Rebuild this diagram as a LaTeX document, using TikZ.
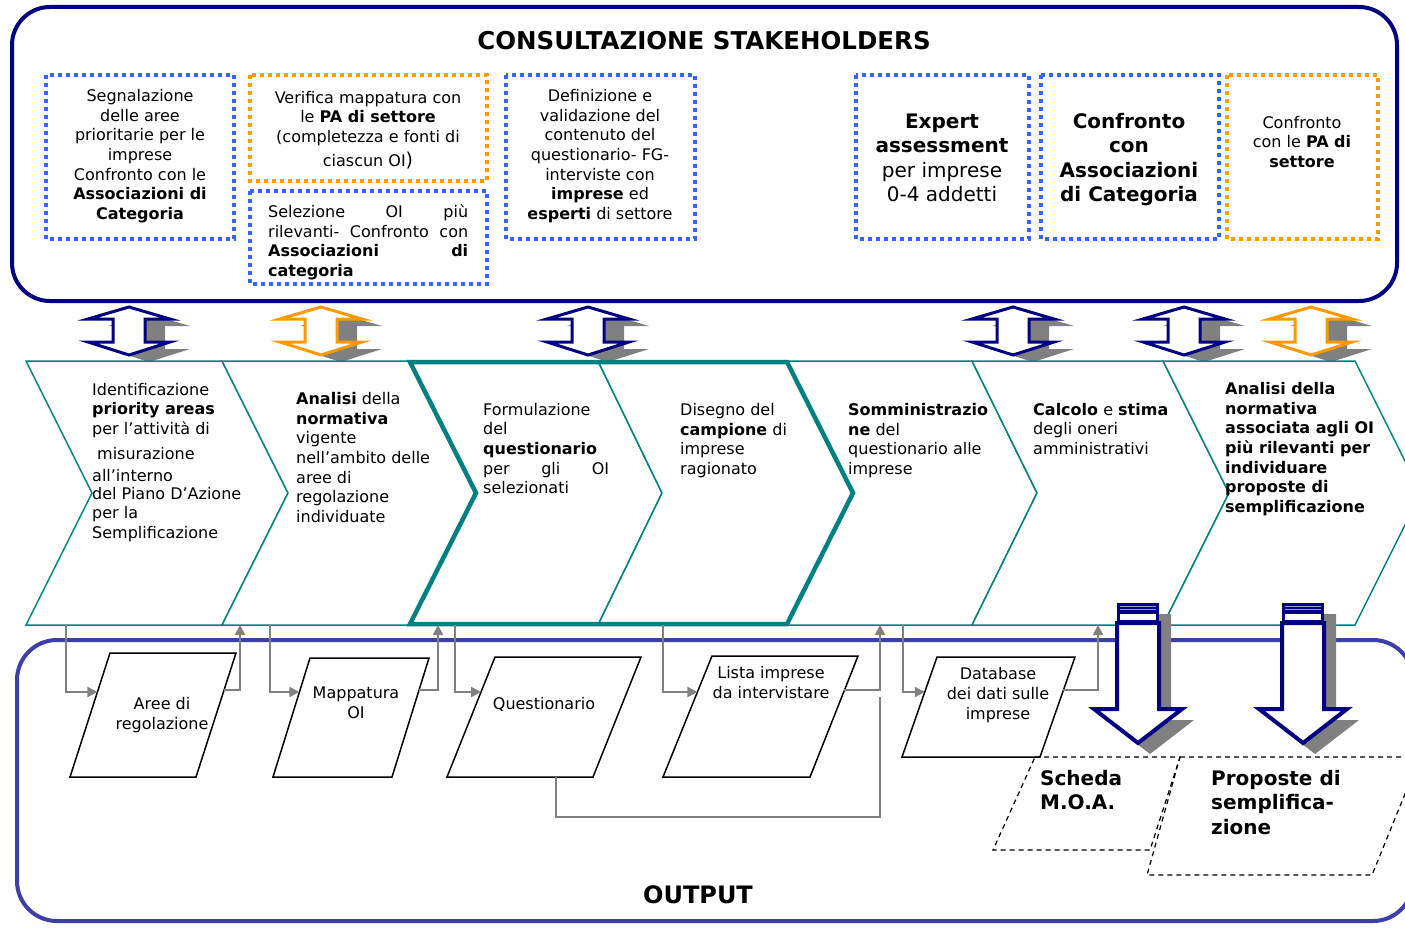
\documentclass[tikz,border=0pt]{standalone}
\usepackage{fontspec}
\setmainfont{DejaVu Sans}
\usetikzlibrary{arrows.meta}
\definecolor{navyc}{RGB}{0,0,128}
\definecolor{dotblue}{RGB}{51,102,255}
\definecolor{dotorange}{RGB}{255,153,0}
\definecolor{tealc}{RGB}{0,128,128}
\definecolor{shadowc}{RGB}{128,128,128}
\definecolor{outblue}{RGB}{62,62,168}
\tikzset{
 dotbox/.style={line width=4pt, dash pattern=on 4pt off 4pt},
 tx/.style={font=\fontsize{16}{19.6}\selectfont, inner sep=0pt},
 txbig/.style={font=\fontsize{20}{24.6}\selectfont, inner sep=0pt},
 txtitle/.style={font=\fontsize{24.5}{26}\selectfont\bfseries, inner sep=0pt},
 chev/.style={draw=tealc, line width=1.5pt, fill=white, line join=miter},
 chevthick/.style={draw=tealc, line width=4.5pt, line join=miter},
 conn/.style={draw=shadowc, line width=2pt},
 connarrow/.style={conn, -{Triangle[length=10pt,width=10pt]}},
 para/.style={draw=black, line width=1.5pt, fill=white, line join=miter},
 dpara/.style={draw=black, line width=1.2pt, dash pattern=on 5pt off 4pt},
}
\begin{document}
\begin{tikzpicture}[x=1pt,y=-1pt]
\useasboundingbox (0,0) rectangle (1405,928);
\clip (0,0) rectangle (1405,928);
\fill[white] (0,0) rectangle (1405,928);

% ---------- top box ----------
\draw[navyc, line width=4pt, rounded corners=38pt] (12,7) rectangle (1397,301);
\node[txtitle] (title) at (704,41) {CONSULTAZIONE STAKEHOLDERS};

\draw[dotbox, dotblue] (46,75) rectangle (234,239);
\node[tx, align=center] (b1) at (140,156.5) {\strut Segnalazione\\delle aree\\prioritarie per le\\imprese\\Confronto con le\\\textbf{Associazioni di}\\\textbf{Categoria}\strut};

\draw[dotbox, dotorange] (250,75) rectangle (487,181);
\node[tx, align=center] (b2) at (368,131) {\strut Verifica mappatura con\\le \textbf{PA di settore}\\(completezza e fonti di\\[5pt]ciascun OI{\fontsize{19}{19}\selectfont)}\strut};

\draw[dotbox, dotblue] (250,191) rectangle (487,284);
\node[tx, align=left, anchor=west] (b3) at (268,243) {\strut\makebox[200pt][s]{Selezione OI più}\\\makebox[200pt][s]{rilevanti- Confronto con}\\\makebox[200pt][s]{\textbf{Associazioni di}}\\\textbf{categoria}\strut};

\draw[dotbox, dotblue] (506,75) rectangle (695,239);
\node[tx, align=center] (b4) at (600,156.5) {\strut Definizione e\\validazione del\\contenuto del\\questionario- FG-\\interviste con\\\textbf{imprese} ed\\\textbf{esperti} di settore\strut};

\draw[dotbox, dotblue] (856,75) rectangle (1029,239);
\node[txbig, align=center] (b5) at (942,160) {\strut\textbf{Expert}\\\textbf{assessment}\\per imprese\\0-4 addetti\strut};

\draw[dotbox, dotblue] (1041,75) rectangle (1219,239);
\node[txbig, align=center] (b6) at (1129,160) {\strut\textbf{Confronto}\\\textbf{con}\\\textbf{Associazioni}\\\textbf{di Categoria}\strut};

\draw[dotbox, dotorange] (1227,75) rectangle (1378,239);
\node[tx, align=center] (b7) at (1302,144) {\strut Confronto\\con le \textbf{PA di}\\\textbf{settore}\strut};

% ---------- output box ----------
\draw[outblue, line width=4pt, rounded corners=40pt] (17,640) rectangle (1413,921);
\node[txtitle, font=\fontsize{24}{26}\selectfont\bfseries] (outlabel) at (698,895) {OUTPUT};

% ---------- up-down arrows: shadows ----------
\foreach \cx in {129,321,588,1013,1184,1311}{
  \fill[shadowc] ({\cx+20},314) -- ({\cx+61},326) -- ({\cx+36},326) -- ({\cx+36},349) -- ({\cx+61},349) -- ({\cx+20},362) -- ({\cx-21},349) -- ({\cx+4},349) -- ({\cx+4},326) -- ({\cx-21},326) -- cycle;
}

% ---------- chevrons ----------
\draw[chev] (26,361) -- (222,361) -- (288,493) -- (222,625) -- (26,625) -- (92,493) -- cycle;
\draw[chev] (222,361) -- (410,361) -- (476,493) -- (410,625) -- (222,625) -- (288,493) -- cycle;
\draw[chev] (410,361) -- (598,361) -- (662,493) -- (598,625) -- (410,625) -- (476,493) -- cycle;
\draw[chev] (598,361) -- (787,361) -- (853,493) -- (787,625) -- (598,625) -- (662,493) -- cycle;
\draw[chev] (787,361) -- (972,361) -- (1037,493) -- (972,625) -- (787,625) -- (853,493) -- cycle;
\draw[chev] (972,361) -- (1163,361) -- (1229,493) -- (1163,625) -- (972,625) -- (1037,493) -- cycle;
\draw[chev] (1163,361) -- (1355,361) -- (1421,493) -- (1355,625) -- (1163,625) -- (1229,493) -- cycle;
\draw[chevthick] (410,362) -- (787,362) -- (853,493) -- (787,624) -- (410,624) -- (476,493) -- cycle;

% ---------- up-down arrows ----------
\foreach \cx/\col in {129/navyc,321/dotorange,588/navyc,1013/navyc,1184/navyc,1311/dotorange}{
  \draw[\col, line width=3pt, fill=white, line join=miter] (\cx,307) -- ({\cx+41},319) -- ({\cx+16},319) -- ({\cx+16},342) -- ({\cx+41},342) -- (\cx,355) -- ({\cx-41},342) -- ({\cx-16},342) -- ({\cx-16},319) -- ({\cx-41},319) -- cycle;
}

% ---------- chevron texts ----------
\node[tx, align=left, anchor=west] (t1) at (92,463) {\strut Identificazione\\\textbf{priority areas}\\per l'attività di\\[5pt]\hspace*{5pt}misurazione\\[3pt]all'interno\\[-2pt]del Piano D'Azione\\per la\\Semplificazione\strut};
\node[tx, align=left, anchor=west] (t2) at (296,459.5) {\strut\textbf{Analisi} della\\\textbf{normativa}\\vigente\\nell'ambito delle\\aree di\\regolazione\\individuate\strut};
\node[tx, align=left, anchor=west] (t3) at (483,450.5) {\strut Formulazione\\del\\\textbf{questionario}\\\makebox[126pt][s]{per gli OI}\\selezionati\strut};
\node[tx, align=left, anchor=west] (t4) at (680,441) {\strut Disegno del\\\textbf{campione} di\\imprese\\ragionato\strut};
\node[tx, align=left, anchor=west] (t5) at (848,441) {\strut\textbf{Somministrazio}\\\textbf{ne} del\\questionario alle\\imprese\strut};
\node[tx, align=left, anchor=west] (t6) at (1033,431) {\strut\textbf{Calcolo} e \textbf{stima}\\degli oneri\\amministrativi\strut};
\node[tx, align=left, anchor=west, font=\fontsize{16}{19.6}\selectfont\bfseries] (t7) at (1225,449.5) {\strut Analisi della\\normativa\\associata agli OI\\più rilevanti per\\individuare\\proposte di\\semplificazione\strut};

% ---------- parallelograms ----------
\draw[para] (110,653) -- (236,653) -- (196,777) -- (70,777) -- cycle;
\node[tx, align=center] (p1) at (162,715.5) {\strut Aree di\\regolazione\strut};
\draw[para] (310,658) -- (429,658) -- (392,777) -- (273,777) -- cycle;
\node[tx, align=center] (p2) at (356,704.5) {\strut Mappatura\\OI\strut};
\draw[para] (495,657) -- (641,657) -- (593,777) -- (447,777) -- cycle;
\node[tx, align=center] (p3) at (544,706) {\strut Questionario\strut};
\draw[para] (712,656) -- (858,656) -- (810,777) -- (663,777) -- cycle;
\node[tx, align=center] (p4) at (771,684.5) {\strut Lista imprese\\da intervistare\strut};
\draw[para] (937,657) -- (1075,657) -- (1040,757) -- (902,757) -- cycle;
\node[tx, align=center] (p5) at (998,695.5) {\strut Database\\dei dati sulle\\imprese\strut};

% ---------- connector points ----------
\coordinate (c1b) at (66,625);   \coordinate (p1l) at (97.4,692);
\coordinate (p1r) at (224,690);  \coordinate (c2u) at (240,625);
\coordinate (c2b) at (270,625);  \coordinate (p2l) at (299.4,692);
\coordinate (p2r) at (419,690);  \coordinate (c3u) at (438,625);
\coordinate (c3b) at (455,625);  \coordinate (p3l) at (481,692);
\coordinate (c4b) at (663,625);  \coordinate (p4l) at (697.4,692);
\coordinate (p4r) at (844,690);  \coordinate (c5u) at (880,625);
\coordinate (p3b) at (556,777);  \coordinate (qm) at (880,817); \coordinate (qe) at (880,697);
\coordinate (c5b) at (903,625);  \coordinate (p5l) at (924.8,692);
\coordinate (p5r) at (1063,690); \coordinate (c6u) at (1098,625);

\draw[connarrow] (c1b) |- (p1l);
\draw[connarrow] (p1r) -| (c2u);
\draw[connarrow] (c2b) |- (p2l);
\draw[connarrow] (p2r) -| (c3u);
\draw[connarrow] (c3b) |- (p3l);
\draw[connarrow] (c4b) |- (p4l);
\draw[connarrow] (p4r) -| (c5u);
\draw[conn] (p3b) |- (qm) -- (qe);
\draw[connarrow] (c5b) |- (p5l);
\draw[connarrow] (p5r) -| (c6u);

% ---------- big down arrows ----------
\foreach \cx in {1138,1303}{
  \fill[shadowc] ({\cx-9},614) -- ({\cx+33},614) -- ({\cx+33},720) -- ({\cx+56},720) -- ({\cx+12},754) -- ({\cx-32},720) -- ({\cx-9},720) -- cycle;
  \draw[navyc, line width=4pt, fill=white, line join=miter] ({\cx-21},623) -- ({\cx-21},709) -- ({\cx-44},709) -- (\cx,743) -- ({\cx+44},709) -- ({\cx+21},709) -- ({\cx+21},623) -- cycle;
  \fill[navyc] ({\cx-21},603) rectangle ({\cx+21},625);
  \fill[white] ({\cx-18},614) rectangle ({\cx+18},620);
  \draw[white!60!navyc, line width=0.8pt] ({\cx-18},606.5) -- ({\cx+18},606.5);
  \draw[white!60!navyc, line width=0.8pt] ({\cx-18},609.5) -- ({\cx+18},609.5);
}

% ---------- dashed outputs ----------
\draw[dpara] (1035,757) -- (1180,757) -- (1150,850) -- (993,850) -- cycle;
\node[txbig, align=left, anchor=west, font=\fontsize{20}{24.6}\selectfont\bfseries] (d1) at (1040,792.5) {\strut Scheda\\M.O.A.\strut};
\draw[dpara] (1180,757) -- (1420,757) -- (1372,875) -- (1147,875) -- cycle;
\node[txbig, align=left, anchor=west, font=\fontsize{20}{24.6}\selectfont\bfseries] (d2) at (1211,805) {\strut Proposte di\\semplifica-\\zione\strut};
\end{tikzpicture}
\end{document}
